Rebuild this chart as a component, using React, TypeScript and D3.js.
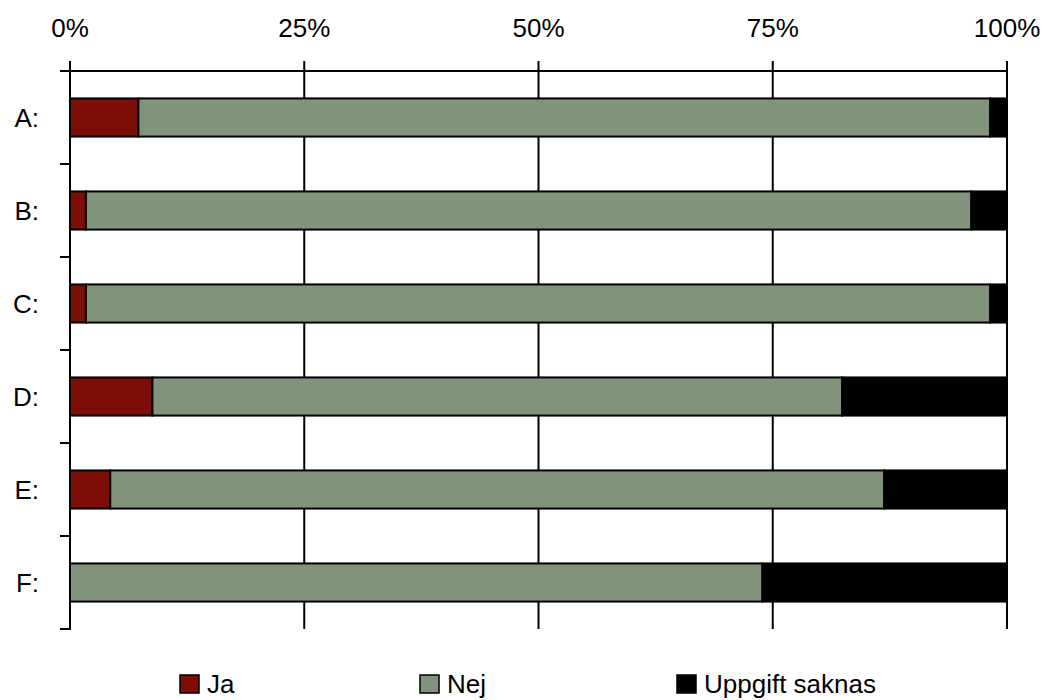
import React, { useEffect, useRef } from 'react';
import * as d3 from 'd3';

const categories = ['A:', 'B:', 'C:', 'D:', 'E:', 'F:'];
const seriesNames = ['Ja', 'Nej', 'Uppgift saknas'];
const ja = [7.3, 1.7, 1.7, 8.8, 4.3, 0];
const nej = [90.9, 94.5, 96.5, 73.6, 82.6, 73.9];
const saknas = [1.8, 3.8, 1.8, 17.6, 13.1, 26.1];
const tickValues = [0, 25, 50, 75, 100];
const colors = ['#7d0d07', '#82937b', '#000000'];

const FONT = '"Liberation Sans", Arial, Helvetica, sans-serif';

const App: React.FC = () => {
  const svgRef = useRef<SVGSVGElement>(null);

  useEffect(() => {
    if (!svgRef.current) return;
    document.body.style.margin = '0';

    const svg = d3.select(svgRef.current);
    svg.selectAll('*').remove();

    const left = 70;
    const right = 1007;
    const top = 71;
    const bottom = 629;

    const x = d3.scaleLinear().domain([0, 100]).range([left, right]);
    const y = d3.scaleBand<string>().domain(categories).range([top, bottom]).paddingInner(0.59).paddingOuter(0.295);
    const yb = d3.scaleBand<string>().domain(categories).range([top, bottom]);

    const rows = categories.map((c, i) => ({ cat: c, Ja: ja[i], Nej: nej[i], 'Uppgift saknas': saknas[i] }));
    const stacked = d3.stack<any>().keys(seriesNames)(rows);

    // grid / top ticks
    svg.append('g')
      .selectAll('line')
      .data(tickValues)
      .join('line')
      .attr('x1', d => x(d)).attr('x2', d => x(d))
      .attr('y1', top - 10).attr('y2', bottom)
      .attr('stroke', '#000').attr('stroke-width', 2);

    // top axis line
    svg.append('line')
      .attr('x1', left - 10).attr('x2', right)
      .attr('y1', top).attr('y2', top)
      .attr('stroke', '#000').attr('stroke-width', 2);

    // left band ticks
    const bounds = categories.map(c => (yb(c) as number) + yb.bandwidth());
    svg.append('g')
      .selectAll('line')
      .data(bounds)
      .join('line')
      .attr('x1', left - 10).attr('x2', left)
      .attr('y1', d => d).attr('y2', d => d)
      .attr('stroke', '#000').attr('stroke-width', 2);

    // tick labels
    svg.append('g')
      .selectAll('text')
      .data(tickValues)
      .join('text')
      .attr('x', d => x(d))
      .attr('y', 37)
      .attr('text-anchor', 'middle')
      .style('font-family', FONT)
      .style('font-size', '26px')
      .text(d => `${d}%`);

    // bars
    stacked.forEach((layer, li) => {
      svg.append('g')
        .selectAll('rect')
        .data(layer.filter(d => d[1] - d[0] > 0))
        .join('rect')
        .attr('x', d => x(d[0]))
        .attr('width', d => x(d[1]) - x(d[0]))
        .attr('y', d => y(d.data.cat) as number)
        .attr('height', y.bandwidth())
        .attr('fill', colors[li])
        .attr('stroke', '#000')
        .attr('stroke-width', 2);
    });

    // left axis line
    svg.append('line')
      .attr('x1', left).attr('x2', left)
      .attr('y1', top - 10).attr('y2', bottom + 1)
      .attr('stroke', '#000').attr('stroke-width', 2);

    // category labels
    svg.append('g')
      .selectAll('text')
      .data(categories)
      .join('text')
      .attr('x', 39)
      .attr('y', d => (yb(d) as number) + yb.bandwidth() / 2 + 9)
      .attr('text-anchor', 'end')
      .style('font-family', FONT)
      .style('font-size', '26px')
      .text(d => d);

    // legend
    const legendX = [180, 420, 677];
    const lg = svg.append('g');
    seriesNames.forEach((name, i) => {
      lg.append('rect')
        .attr('x', legendX[i]).attr('y', 675)
        .attr('width', 19).attr('height', 18)
        .attr('fill', colors[i])
        .attr('stroke', '#000').attr('stroke-width', 1.5);
      lg.append('text')
        .attr('x', legendX[i] + 27).attr('y', 693)
        .style('font-family', FONT)
        .style('font-size', '26px')
        .text(name);
    });
  }, []);

  return <svg ref={svgRef} width={1050} height={700} style={{ display: 'block', background: '#fff' }}></svg>;
};

export default App;
